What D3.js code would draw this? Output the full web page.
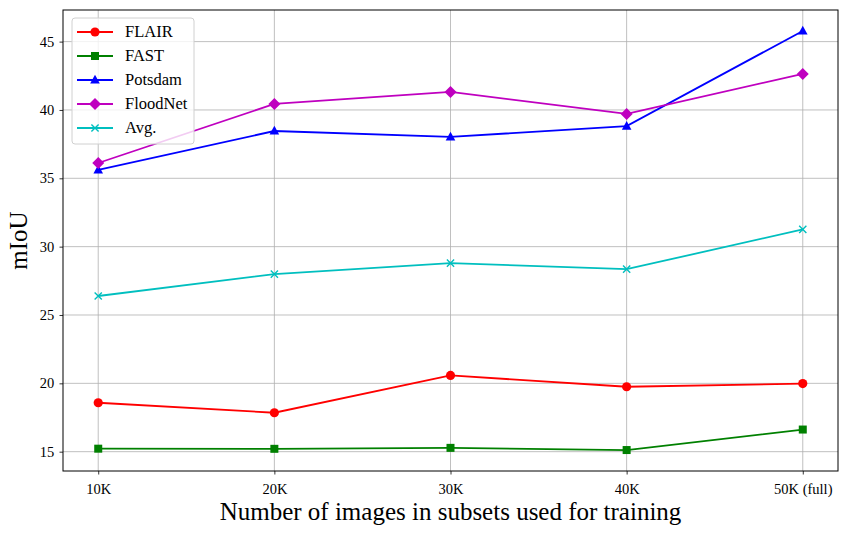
<!DOCTYPE html>
<html>
<head>
<meta charset="utf-8">
<script src="https://cdn.jsdelivr.net/npm/d3@7"></script>
<style>
  body { margin: 0; background: #fff; }
  text { font-family: "Liberation Serif", "Times New Roman", serif; }
</style>
</head>
<body>
<script>
// data
const categories = ["10K", "20K", "30K", "40K", "50K (full)"];
const flair    = [18.58, 17.85, 20.58, 19.75, 19.98];
const fast     = [15.22, 15.21, 15.28, 15.12, 16.62];
const potsdam  = [35.62, 38.46, 38.03, 38.82, 45.78];
const floodnet = [36.12, 40.44, 41.32, 39.71, 42.64];
const avg      = [26.39, 27.99, 28.80, 28.35, 31.26];
const yTicks = [15, 20, 25, 30, 35, 40, 45];

const series = [
  { name: "FLAIR", values: flair, color: "#ff0000", marker: "circle" },
  { name: "FAST", values: fast, color: "#008000", marker: "square" },
  { name: "Potsdam", values: potsdam, color: "#0000ff", marker: "triangle" },
  { name: "FloodNet", values: floodnet, color: "#bf00bf", marker: "diamond" },
  { name: "Avg.", values: avg, color: "#00bfbf", marker: "x" }
];

const W = 848, H = 535;
const margin = { top: 10, right: 10, bottom: 64, left: 63 };
const width = W - margin.left - margin.right;
const height = H - margin.top - margin.bottom;

const svg = d3.select("body").append("svg")
  .attr("width", W).attr("height", H);
const g = svg.append("g")
  .attr("transform", `translate(${margin.left},${margin.top})`);

// scales with matplotlib-like 5% padding
const xScale = d3.scaleLinear().domain([-0.2, 4.2]).range([0, width]);
const all = series.flatMap(s => s.values);
const [ymin, ymax] = d3.extent(all);
const pad = (ymax - ymin) * 0.05;
const yScale = d3.scaleLinear().domain([ymin - pad, ymax + pad]).range([height, 0]);

// grid
g.append("g").selectAll("line").data(d3.range(categories.length)).enter().append("line")
  .attr("x1", d => xScale(d)).attr("x2", d => xScale(d))
  .attr("y1", 0).attr("y2", height)
  .attr("stroke", "#b0b0b0").attr("stroke-width", 0.8);
g.append("g").selectAll("line").data(yTicks).enter().append("line")
  .attr("x1", 0).attr("x2", width)
  .attr("y1", d => yScale(d)).attr("y2", d => yScale(d))
  .attr("stroke", "#b0b0b0").attr("stroke-width", 0.8);

// axes
const xAxis = g.append("g")
  .attr("transform", `translate(0,${height})`)
  .call(d3.axisBottom(xScale).tickValues(d3.range(categories.length))
    .tickFormat(i => categories[i]).tickSize(3.5).tickSizeOuter(0));
const yAxis = g.append("g")
  .call(d3.axisLeft(yScale).tickValues(yTicks).tickSize(3.5).tickSizeOuter(0));
[xAxis, yAxis].forEach(a => {
  a.select(".domain").remove();
  a.selectAll("line").attr("stroke", "#000").attr("stroke-width", 0.8);
  a.selectAll("text").attr("font-size", 14.5).attr("fill", "#000")
    .style("font-family", "'Liberation Serif', serif");
});
xAxis.selectAll("text").attr("dy", "1.15em");
yAxis.selectAll("text").attr("dx", "-0.15em");

// frame
g.append("rect").attr("width", width).attr("height", height)
  .attr("fill", "none").attr("stroke", "#000").attr("stroke-width", 1);

// marker drawing helper
function drawMarker(sel, type, color) {
  if (type === "circle") {
    sel.append("circle").attr("r", 4.6).attr("fill", color);
  } else if (type === "square") {
    sel.append("rect").attr("x", -4).attr("y", -4).attr("width", 8).attr("height", 8).attr("fill", color);
  } else if (type === "triangle") {
    sel.append("path").attr("d", "M0,-5.2L4.8,3.6L-4.8,3.6Z").attr("fill", color);
  } else if (type === "diamond") {
    sel.append("path").attr("d", "M0,-6L6,0L0,6L-6,0Z").attr("fill", color);
  } else {
    sel.append("path").attr("d", "M-3.6,-3.6L3.6,3.6M-3.6,3.6L3.6,-3.6")
      .attr("stroke", color).attr("stroke-width", 1.4).attr("fill", "none");
  }
}

const line = d3.line()
  .x((d, i) => xScale(i))
  .y(d => yScale(d));

series.forEach(s => {
  g.append("path").datum(s.values)
    .attr("d", line).attr("fill", "none")
    .attr("stroke", s.color).attr("stroke-width", 1.8);
  s.values.forEach((v, i) => {
    const m = g.append("g").attr("transform", `translate(${xScale(i)},${yScale(v)})`);
    drawMarker(m, s.marker, s.color);
  });
});

// legend
const legend = g.append("g").attr("transform", "translate(9,8)");
legend.append("rect").attr("width", 122).attr("height", 126).attr("rx", 3)
  .attr("fill", "#fff").attr("fill-opacity", 0.8)
  .attr("stroke", "#d0d0d0").attr("stroke-width", 1);
series.forEach((s, i) => {
  const row = legend.append("g").attr("transform", `translate(0,${14 + i * 24})`);
  row.append("line").attr("x1", 5).attr("x2", 41)
    .attr("stroke", s.color).attr("stroke-width", 1.8);
  drawMarker(row.append("g").attr("transform", "translate(23,0)"), s.marker, s.color);
  row.append("text").attr("x", 53).attr("y", 5).attr("font-size", 16.5).text(s.name);
});

// axis labels
svg.append("text")
  .attr("x", margin.left + width / 2).attr("y", 520)
  .attr("text-anchor", "middle").attr("font-size", 25)
  .text("Number of images in subsets used for training");
svg.append("text")
  .attr("transform", `translate(27,${margin.top + height / 2}) rotate(-90)`)
  .attr("text-anchor", "middle").attr("font-size", 25)
  .text("mIoU");
</script>
</body>
</html>
